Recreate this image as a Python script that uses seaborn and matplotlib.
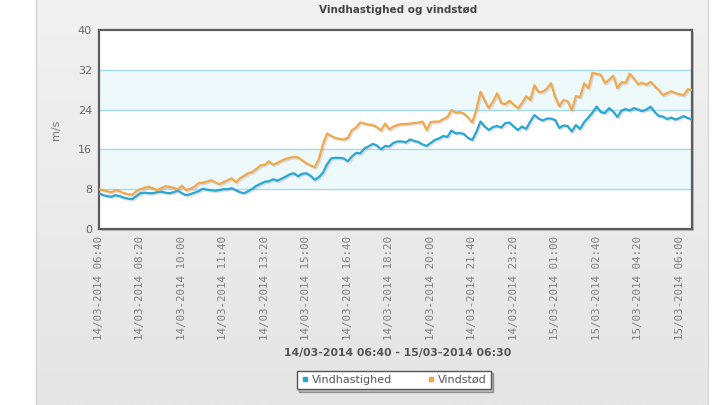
import numpy as np
import pandas as pd
import seaborn as sns
import matplotlib.pyplot as plt
import matplotlib.patheffects as pe
from matplotlib.lines import Line2D
from matplotlib.patches import Rectangle

# 10-minute readings, 14/03-2014 06:40 -> 15/03-2014 06:30
times = pd.date_range("2014-03-14 06:40", "2014-03-15 06:30", freq="10min")

vindhastighed = [
    7.2, 6.8, 6.6, 6.5, 6.8, 6.6, 6.3, 6.1, 6.0, 6.6,
    7.2, 7.3, 7.2, 7.2, 7.4, 7.5, 7.3, 7.2, 7.4, 7.7,
    7.2, 6.8, 7.0, 7.3, 7.6, 8.1, 7.9, 7.8, 7.7, 7.8,
    8.0, 8.0, 8.2, 7.8, 7.4, 7.2, 7.6, 8.1, 8.7, 9.1,
    9.5, 9.6, 10.0, 9.7, 10.1, 10.5, 11.0, 11.2, 10.6, 11.1,
    11.2, 10.7, 9.9, 10.4, 11.3, 13.0, 14.2, 14.3, 14.3, 14.2,
    13.6, 14.6, 15.3, 15.2, 16.2, 16.6, 17.1, 16.8, 16.0, 16.7,
    16.6, 17.3, 17.6, 17.6, 17.4, 18.0, 17.7, 17.5, 17.0, 16.7,
    17.3, 17.9, 18.2, 18.7, 18.5, 19.8, 19.2, 19.3, 19.1, 18.3,
    17.9, 19.5, 21.6, 20.6, 19.9, 20.5, 20.7, 20.4, 21.3, 21.4,
    20.6, 19.9, 20.6, 20.1, 21.6, 22.9, 22.2, 21.8, 22.2, 22.2,
    21.9, 20.3, 20.8, 20.7, 19.6, 20.9, 20.1, 21.5, 22.4, 23.4,
    24.6, 23.5, 23.3, 24.3, 23.6, 22.5, 23.8, 24.1, 23.8, 24.3,
    24.0, 23.7, 24.0, 24.6, 23.5, 22.7, 22.6, 22.1, 22.4, 22.0,
    22.3, 22.7, 22.3, 22.0,
]

vindstod = [
    8.0, 7.8, 7.6, 7.4, 7.8, 7.6, 7.2, 7.0, 6.9, 7.6,
    8.0, 8.3, 8.5, 8.2, 7.8, 8.2, 8.6, 8.5, 8.3, 8.0,
    8.7, 7.8, 8.1, 8.5, 9.2, 9.3, 9.5, 9.8, 9.4, 9.0,
    9.4, 9.8, 10.2, 9.4, 10.2, 10.7, 11.2, 11.5, 12.1, 12.8,
    12.9, 13.6, 12.9, 13.3, 13.7, 14.1, 14.3, 14.5, 14.4, 13.8,
    13.2, 12.8, 12.4, 14.0, 17.0, 19.2, 18.7, 18.3, 18.1, 18.0,
    18.3, 19.9, 20.4, 21.4, 21.2, 21.0, 20.9, 20.5, 19.8, 21.2,
    20.0, 20.6, 20.9, 21.1, 21.1, 21.2, 21.3, 21.4, 21.6, 19.9,
    21.5, 21.6, 21.6, 22.1, 22.5, 23.9, 23.4, 23.5, 23.2, 22.4,
    21.4, 24.0, 27.6, 25.8, 24.3, 25.6, 27.3, 25.3, 25.1, 25.8,
    25.0, 24.3, 25.3, 26.7, 25.9, 28.9, 27.5, 27.6, 28.2, 29.3,
    26.5, 24.7, 25.9, 25.7, 23.9, 26.7, 26.5, 29.3, 28.3, 31.4,
    31.2, 31.0, 29.3, 30.0, 30.8, 28.3, 29.5, 29.4, 31.2, 30.2,
    29.1, 29.4, 29.0, 29.6, 28.7, 27.9, 26.9, 27.3, 27.7, 27.3,
    27.1, 26.9, 28.1, 28.0,
]

y_ticks = [0, 8, 16, 24, 32, 40]
tick_times = times[::10]
tick_labels = [t.strftime("%d/%m-%Y %H:%M") for t in tick_times]

BLUE = "#29a6d3"
ORANGE = "#f1a84a"

sns.set_style("white")
plt.rcParams["font.family"] = ["DejaVu Sans"]

fig = plt.figure(figsize=(7.19, 4.05), dpi=100)
fig.patch.set_facecolor("white")

# grey panel behind the chart, slight vertical gradient
bg = fig.add_axes([36 / 719, 0, (708 - 36) / 719, 1], zorder=-10)
grad = np.linspace(0, 1, 256).reshape(-1, 1)
bg.imshow(grad, aspect="auto", cmap=sns.blend_palette(["#f1f1f1", "#e5e5e5"], as_cmap=True),
          extent=[0, 1, 0, 1], origin="upper")
bg.set_axis_off()
fig.add_artist(Line2D([36 / 719, 36 / 719], [0, 1], color="#d2d2d2", lw=1))
fig.add_artist(Line2D([708 / 719, 708 / 719], [0, 1], color="#d8d8d8", lw=1))

left, right, top, bottom = 99 / 719, 692 / 719, 1 - 30 / 405, 1 - 229 / 405
# shadow under the plot frame
fig.add_artist(Rectangle((left + 2 / 719, bottom - 2 / 405), right - left, top - bottom,
                         transform=fig.transFigure, facecolor="#bdbdbd", edgecolor="none", zorder=0))
ax = fig.add_axes([left, bottom, right - left, top - bottom])
ax.set_facecolor("white")

for lo, hi in [(8, 16), (24, 32)]:
    ax.axhspan(lo, hi, color="#eef9fc", zorder=0)
for yv in y_ticks[1:-1]:
    ax.axhline(yv, color="#a6dbeb", lw=1, zorder=1)

shadow = [pe.SimpleLineShadow(offset=(1.0, -1.0), shadow_color="#999999", alpha=0.3), pe.Normal()]
sns.lineplot(x=times, y=vindhastighed, ax=ax, color=BLUE, lw=1.6, zorder=3,
             path_effects=shadow)
sns.lineplot(x=times, y=vindstod, ax=ax, color=ORANGE, lw=1.6, zorder=4,
             path_effects=shadow)

ax.set_xlim(times[0], times[-1])
ax.set_ylim(0, 40)
ax.set_yticks(y_ticks)
ax.set_yticklabels([str(v) for v in y_ticks], color="#666666", fontsize=8)
ax.set_xticks(tick_times)
ax.set_xticklabels(tick_labels, rotation=90, family="DejaVu Sans Mono",
                   color="#808080", fontsize=7.8, va="top")
ax.tick_params(axis="both", length=0, pad=5)
ax.set_xlabel("")
ax.set_ylabel("m/s", color="#777777", fontsize=8, labelpad=12)
for sp in ax.spines.values():
    sp.set_color("#5c5c5c")
    sp.set_linewidth(1.6)

fig.text(398 / 719, 1 - 10 / 405, "Vindhastighed og vindstød", ha="center", va="center",
         fontsize=7.5, fontweight="bold", color="#444444")
fig.text(398 / 719, 1 - 353 / 405, "14/03-2014 06:40 - 15/03-2014 06:30", ha="center",
         va="center", fontsize=7.8, fontweight="bold", color="#555555")

handles = [
    Line2D([], [], ls="none", marker="s", ms=3.5, color=BLUE, label="Vindhastighed"),
    Line2D([], [], ls="none", marker="s", ms=3.5, color=ORANGE, label="Vindstød"),
]
leg = fig.legend(handles=handles, loc="center", bbox_to_anchor=(394 / 719, 1 - 380 / 405),
                 ncol=2, fontsize=8, frameon=True, fancybox=False,
                 shadow={"ox": 1.5, "oy": -1.5, "facecolor": "#999999", "alpha": 0.5},
                 handlelength=0.6, handletextpad=0.3, columnspacing=3.2,
                 borderpad=0.4, edgecolor="#555555")
for t in leg.get_texts():
    t.set_color("#555555")

fig.savefig("out.png", dpi=100)
